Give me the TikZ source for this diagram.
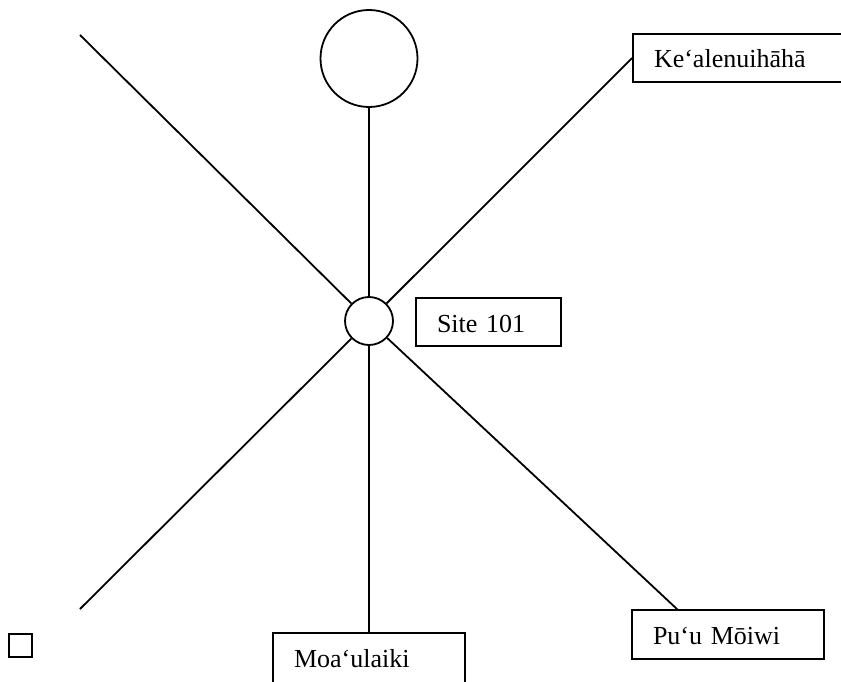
\documentclass[tikz,border=0pt]{standalone}
\usepackage{fontspec}
\setmainfont{Liberation Serif}
\begin{document}
\begin{tikzpicture}[x=1pt,y=-1pt,
  every node/.style={line width=1.8pt},
  circ/.style={draw, circle, inner sep=0pt},
  lbl/.style={draw, rectangle, inner xsep=21pt, inner ysep=0pt, align=left,
    font=\fontsize{26}{31}\selectfont, text height=20pt, text depth=0pt},
  conn/.style={line width=1.8pt}]
\useasboundingbox (0,0) rectangle (841,682);
\node[circ, minimum size=48pt] (c) at (369,321) {};
\node[circ, minimum size=97pt] (top) at (369,58.5) {};
\node[lbl, text width=103pt, minimum height=48pt] (site) at (488.5,322) {Site 101};
\node[lbl, text width=168pt, minimum height=48pt] (ke) at (738,58) {Ke‘alenuihāhā};
\node[lbl, text width=150pt, minimum height=49pt] (puu) at (728,634.5) {Pu‘u Mōiwi};
\node[lbl, text width=150pt, minimum height=52pt, text depth=4pt] (moa) at (369,659) {Moa‘ulaiki};
\node[draw, rectangle, inner sep=0pt, minimum size=23pt] (sq) at (20.5,645.5) {};
\coordinate (ul) at (80,35);
\coordinate (ll) at (80,609);
\coordinate (pt) at (678,610);
\draw[conn] (ul) -- (c);
\draw[conn] (ll) -- (c);
\draw[conn] (top) -- (c);
\draw[conn] (c) -- (ke.west);
\draw[conn] (c) -- (pt);
\draw[conn] (c) -- (moa.north);
\end{tikzpicture}
\end{document}
